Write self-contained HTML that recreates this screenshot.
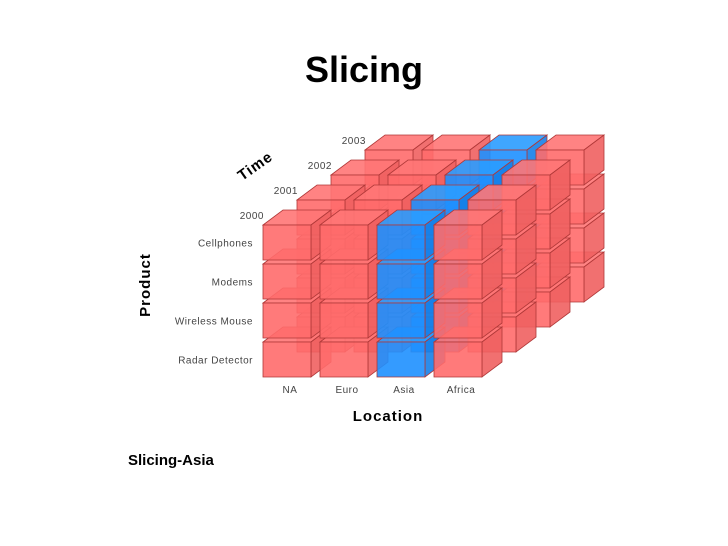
<!DOCTYPE html>
<html><head><meta charset="utf-8"><style>
body{margin:0;background:#fff;width:728px;height:546px;overflow:hidden;font-family:"Liberation Sans",sans-serif}
#title{position:absolute;left:0;width:728px;top:49px;text-align:center;font-size:36px;font-weight:bold;font-family:"Liberation Sans",sans-serif}
#cap{position:absolute;left:128px;top:452px;font-size:15px;font-weight:bold}
svg{position:absolute;left:0;top:0}
</style></head><body>
<div id="title">Slicing</div>
<svg id="cube" width="728" height="546"></svg>
<div id="cap">Slicing-Asia</div>
<script>
const years=["2000","2001","2002","2003"];
const products=["Cellphones","Modems","Wireless Mouse","Radar Detector"];
const locations=["NA","Euro","Asia","Africa"];
const slice="Asia";
const svg=document.getElementById('cube');
const NS="http://www.w3.org/2000/svg";
const X0=263,Y0=225,PX=57,PY=39,W=48,H=35,DX=20,DY=-15,LX=34,LY=-25;
function px(ci,layer){return X0+ci*PX+layer*LX;}
function py(ri,layer){return Y0+ri*PY+layer*LY;}
function poly(pts,fill,name){const p=document.createElementNS(NS,'polygon');p.setAttribute('points',pts.map(q=>q.join(',')).join(' '));p.setAttribute('fill',fill);p.setAttribute('stroke','#b03838');p.setAttribute('stroke-width','0.8');p.setAttribute('fill-opacity','0.9');


svg.appendChild(p);}
function txt(s,x,y,opts,name){const t=document.createElementNS(NS,'text');t.textContent=s;t.setAttribute('x',x);t.setAttribute('y',y);for(const k in opts)t.setAttribute(k,opts[k]);


svg.appendChild(t);}
for(let l=years.length-1;l>=0;l--){
 for(let r=products.length-1;r>=0;r--){
  for(let c=0;c<locations.length;c++){
   const blue=locations[c]===slice;
   const x=px(c,l),y=py(r,l);
   const f=blue?'#1e90ff':'#ff6b6b',t=blue?'#2a9cff':'#ff7676',s=blue?'#1580e8':'#f06060';
   poly([[x,y],[x+DX,y+DY],[x+W+DX,y+DY],[x+W,y]],t,'cube-top');
   poly([[x+W,y],[x+W+DX,y+DY],[x+W+DX,y+H+DY],[x+W,y+H]],s,'cube-side');
   poly([[x,y],[x+W,y],[x+W,y+H],[x,y+H]],f,'cube-front');
  }
 }
}
const lf={'font-size':'10','fill':'#444','font-family':'Liberation Sans, sans-serif','letter-spacing':'0.5'};
products.forEach((p,i)=>txt(p,253,py(i,0)+H/2+4,Object.assign({'text-anchor':'end'},lf),'product-label'));
locations.forEach((p,i)=>txt(p,px(i,0)+W/2+3,393,Object.assign({'text-anchor':'middle'},lf),'location-label'));
years.forEach((y,i)=>txt(y,264+i*LX,py(0,i)-6,Object.assign({'text-anchor':'end'},lf),'year-label'));
txt('Time',258,170,{'font-size':'15','font-weight':'bold','font-family':'Liberation Sans, sans-serif','transform':'rotate(-35 258 170)','text-anchor':'middle','letter-spacing':'1'},'time-axis-title');
txt('Product',150,285,{'font-size':'15','font-weight':'bold','font-family':'Liberation Sans, sans-serif','transform':'rotate(-90 150 285)','text-anchor':'middle','letter-spacing':'1'},'product-axis-title');
txt('Location',388,421,{'font-size':'15','font-weight':'bold','font-family':'Liberation Sans, sans-serif','text-anchor':'middle','letter-spacing':'1'},'location-axis-title');
</script>
</body></html>
